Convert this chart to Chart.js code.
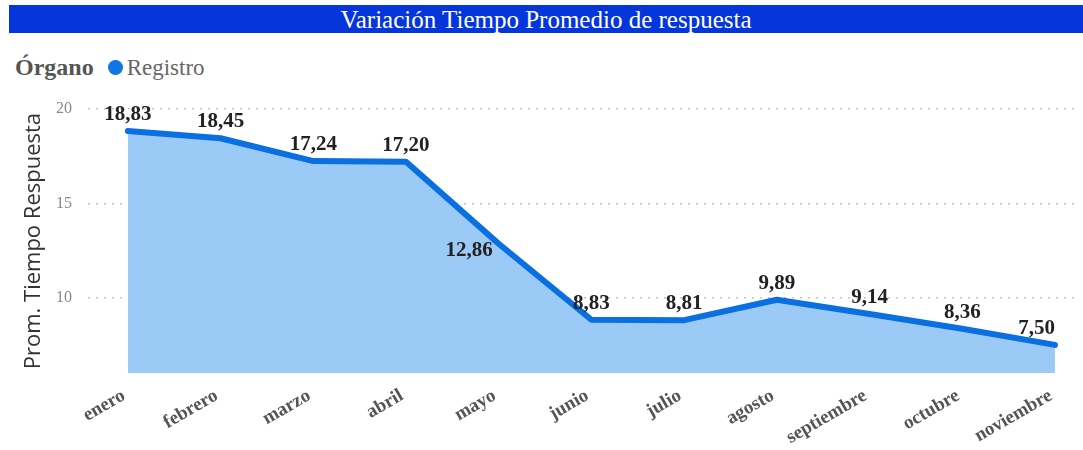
<head>
  <meta charset="UTF-8">
  <title>Variación Tiempo Promedio de respuesta</title>
  <script src="https://cdn.jsdelivr.net/npm/chart.js@4"></script>
  <style>
    body { margin: 0; width: 1083px; height: 450px; overflow: hidden; background: #fff; position: relative; }
    #titleBar {
      position: absolute; left: 9px; top: 5px; width: 1074px; height: 28px;
      background: #0536dc; color: #fff; text-align: center;
      font: 25px "Liberation Serif", serif; line-height: 29px;
    }
    #legend { position: absolute; left: 15px; top: 54px; font: 23px "Liberation Serif", serif; color: #666; white-space: nowrap; }
    #legend b { color: #555; margin-right: 14px; font-size: 24px; }
    #legend .dot { display: inline-block; width: 15px; height: 15px; border-radius: 50%; background: #1275e4; vertical-align: 0px; margin-right: 4px; }
    #wrap { position: absolute; left: 0; top: 0; width: 1083px; height: 450px; }
  </style>
</head>
<body>
  <div id="titleBar">Variación Tiempo Promedio de respuesta</div>
  <div id="legend"><b>Órgano</b><span class="dot"></span>Registro</div>
  <div id="wrap"><canvas id="chart"></canvas></div>

  <script>
    const months = ["enero", "febrero", "marzo", "abril", "mayo", "junio", "julio", "agosto", "septiembre", "octubre", "noviembre"];
    const tiempo = [18.83, 18.45, 17.24, 17.20, 12.86, 8.83, 8.81, 9.89, 9.14, 8.36, 7.50];
    const yTicks = [10, 15, 20];

    const fmt = v => v.toFixed(2).replace(".", ",");

    // value labels: above the point, beside it when the line falls steeply through it
    const valueLabels = {
      id: "valueLabels",
      afterDatasetsDraw(chart) {
        const ctx = chart.ctx;
        const pts = chart.getDatasetMeta(0).data;
        ctx.save();
        ctx.font = "bold 21px 'Liberation Serif', serif";
        ctx.fillStyle = "#222";
        ctx.textBaseline = "alphabetic";
        pts.forEach((pt, i) => {
          const txt = fmt(tiempo[i]);
          const w = ctx.measureText(txt).width;
          let x = pt.x - w / 2;
          let y = pt.y - 11;
          const prev = tiempo[i - 1], next = tiempo[i + 1];
          if (prev - tiempo[i] > 3 && tiempo[i] - next > 3) {
            x = pt.x - w - 6;
            y = pt.y + 12;
          }
          if (i === pts.length - 1) x = pt.x - w;
          ctx.fillText(txt, x, y);
        });
        ctx.restore();
      }
    };

    const ctx = document.getElementById("chart").getContext("2d");
    new Chart(ctx, {
      type: "line",
      data: {
        datasets: [{
          label: "Registro",
          data: months.map((m, i) => ({ x: i, y: tiempo[i] })),
          borderColor: "#0a6fe0",
          backgroundColor: "#9ccaf6",
          borderWidth: 6,
          fill: "start",
          pointRadius: 0,
          tension: 0,
          borderJoinStyle: "round",
          borderCapStyle: "round"
        }]
      },
      options: {
        responsive: true,
        maintainAspectRatio: false,
        animation: false,
        layout: { padding: { top: 109, right: 3, left: 21, bottom: 0 } },
        plugins: { legend: { display: false }, tooltip: { enabled: false } },
        scales: {
          x: {
            type: "linear",
            min: -0.43,
            max: 10.27,
            afterBuildTicks: s => { s.ticks = months.map((m, i) => ({ value: i })); },
            grid: { display: false },
            border: { display: false },
            ticks: {
              autoSkip: false,
              minRotation: 30,
              maxRotation: 30,
              padding: 1,
              color: "#555",
              font: { family: "'Liberation Serif', serif", size: 19, weight: "bold" },
              callback: v => months[v] + " "
            }
          },
          y: {
            min: 6,
            max: 20,
            afterBuildTicks: s => { s.ticks = yTicks.map(v => ({ value: v })); },
            afterFit: s => { s.width = 67; },
            border: { display: false, dash: [2, 6] },
            grid: { color: "#c4c4c4", lineWidth: 1.5, drawTicks: false },
            ticks: {
              padding: 16,
              color: "#888",
              font: { family: "'Liberation Serif', serif", size: 16 }
            },
            title: {
              display: true,
              text: "Prom. Tiempo Respuesta",
              color: "#333",
              font: { family: "'Open Sans', sans-serif", size: 22 },
              padding: { top: 0, bottom: 0 }
            }
          }
        }
      },
      plugins: [valueLabels]
    });
  </script>
</body>
</html>
